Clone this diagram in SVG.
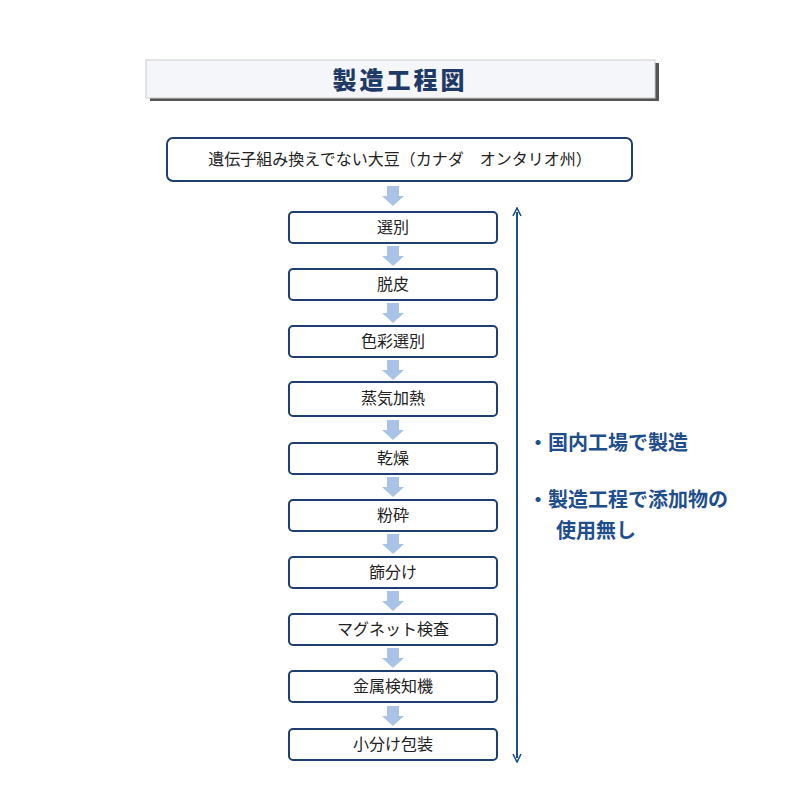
<svg xmlns="http://www.w3.org/2000/svg" width="800" height="800" viewBox="0 0 800 800">
<defs>
<style>
.b{fill:#fff;stroke:#1f3f73;stroke-width:2}
.t{font-family:"Noto Sans CJK JP","Noto Sans",sans-serif;font-size:16px;fill:#222;text-anchor:middle}
.a{fill:#a8c3e6}
.r{font-family:"Noto Sans CJK JP",sans-serif;font-size:20px;font-weight:bold;fill:#1f4e8c}
</style>
<marker id="m" viewBox="0 0 10 10" refX="5" refY="5" markerWidth="5" markerHeight="5" orient="auto-start-reverse"><path d="M1,1 L9,5 L1,9" fill="none" stroke="#1f4e8c" stroke-width="1.6"/></marker>
<symbol id="ba" overflow="visible"><rect x="-6" y="0" width="12" height="10" class="a"/><path d="M-11,10 H11 L0,20 Z" class="a"/></symbol>
</defs>
<rect width="800" height="800" fill="#fff"/>
<g id="title">
<rect x="150" y="63" width="509" height="38" fill="#555"/>
<rect x="146" y="60" width="509" height="38" fill="#f4f6fa" stroke="#ccc"/>
<text x="400" y="89" font-family="Noto Sans CJK JP,sans-serif" font-size="24" font-weight="900" fill="#1f3a66" text-anchor="middle" letter-spacing="3">製造工程図</text>
</g>
<g id="n0"><rect class="b" x="167" y="138" width="465" height="43" rx="6"/><text class="t" x="400" y="165" font-size="17">遺伝子組み換えでない大豆（カナダ　オンタリオ州）</text></g>
<g id="n1"><rect class="b" x="289" y="212" width="208" height="31" rx="4"/><text class="t" x="393" y="233">選別</text></g>
<g id="n2"><rect class="b" x="289" y="269" width="208" height="31" rx="4"/><text class="t" x="393" y="290">脱皮</text></g>
<g id="n3"><rect class="b" x="289" y="326" width="208" height="31" rx="4"/><text class="t" x="393" y="347">色彩選別</text></g>
<g id="n4"><rect class="b" x="289" y="382" width="208" height="34" rx="4"/><text class="t" x="393" y="404">蒸気加熱</text></g>
<g id="n5"><rect class="b" x="289" y="443" width="208" height="31" rx="4"/><text class="t" x="393" y="464">乾燥</text></g>
<g id="n6"><rect class="b" x="289" y="500" width="208" height="31" rx="4"/><text class="t" x="393" y="521">粉砕</text></g>
<g id="n7"><rect class="b" x="289" y="557" width="208" height="31" rx="4"/><text class="t" x="393" y="578">篩分け</text></g>
<g id="n8"><rect class="b" x="289" y="614" width="208" height="31" rx="4"/><text class="t" x="393" y="635">マグネット検査</text></g>
<g id="n9"><rect class="b" x="289" y="671" width="208" height="31" rx="4"/><text class="t" x="393" y="692">金属検知機</text></g>
<g id="n10"><rect class="b" x="289" y="729" width="208" height="31" rx="4"/><text class="t" x="393" y="750">小分け包装</text></g>
<g id="connectors">
<use href="#ba" x="393" y="186"/>
<use href="#ba" x="393" y="246"/>
<use href="#ba" x="393" y="303"/>
<use href="#ba" x="393" y="360"/>
<use href="#ba" x="393" y="420"/>
<use href="#ba" x="393" y="477"/>
<use href="#ba" x="393" y="534"/>
<use href="#ba" x="393" y="591"/>
<use href="#ba" x="393" y="648"/>
<use href="#ba" x="393" y="706"/>
<line x1="517" y1="212" x2="517" y2="758" stroke="#1f4e8c" stroke-width="2" marker-start="url(#m)" marker-end="url(#m)"/>
</g>
<g id="notes">
<text class="r" x="528" y="450">・国内工場で製造</text>
<text class="r" x="528" y="507">・製造工程で添加物の</text>
<text class="r" x="556" y="538">使用無し</text>
</g>
</svg>
